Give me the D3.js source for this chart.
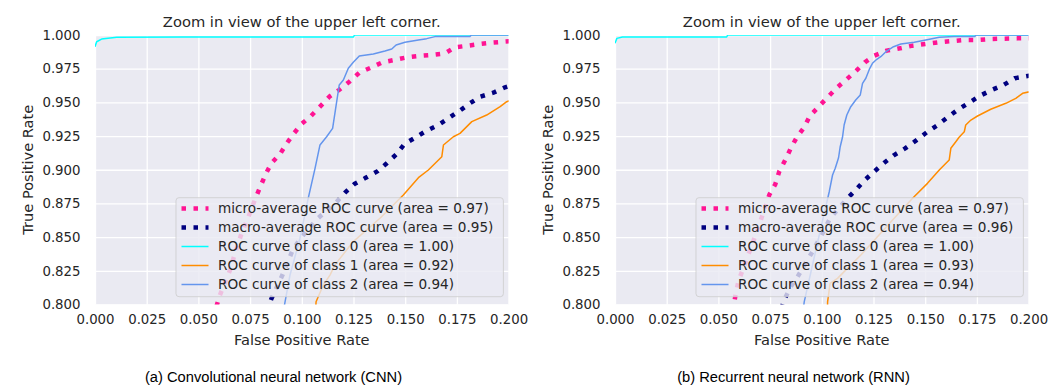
<!DOCTYPE html>
<html>
<head>
<meta charset="utf-8">
<title>ROC zoom</title>
<script src="https://cdn.jsdelivr.net/npm/d3@7"></script>
<style>
    body { margin: 0; background: #fff; }
    text { fill: #262626; font-family: "DejaVu Sans", sans-serif; }
</style>
</head>
<body>
<div id="chart"></div>
<script>
// [fpr, tpr] points
var cnnMicro = [[0.057,0.790],[0.0604,0.807],[0.0653,0.8256],[0.0669,0.834],[0.0709,0.853],[0.0733,0.8615],[0.0778,0.8796],[0.0801,0.888],[0.0826,0.897],[0.0854,0.905],[0.0895,0.9117],[0.0927,0.9196],[0.0962,0.927],[0.0999,0.934],[0.1045,0.940],[0.1088,0.9468],[0.1133,0.9542],[0.118,0.9592],[0.123,0.9653],[0.1278,0.972],[0.1333,0.9757],[0.1389,0.9797],[0.1446,0.9814],[0.1507,0.9834],[0.1576,0.9846],[0.1628,0.9852],[0.1693,0.9864],[0.1741,0.9909],[0.1806,0.9921],[0.1862,0.9933],[0.1918,0.9943],[0.1975,0.995],[0.205,0.9958]];
var cnnMacro = [[0.083,0.795],[0.0854,0.8046],[0.0908,0.8224],[0.0954,0.8397],[0.0991,0.8486],[0.1072,0.8632],[0.1165,0.8756],[0.1209,0.883],[0.1254,0.8894],[0.1309,0.894],[0.1367,0.899],[0.1411,0.9048],[0.1459,0.9117],[0.1496,0.9191],[0.1548,0.9238],[0.1601,0.9288],[0.166,0.9332],[0.1709,0.9382],[0.1762,0.9436],[0.1813,0.9493],[0.1862,0.9542],[0.1926,0.9572],[0.1983,0.9612],[0.205,0.9645]];
var cnnClass0 = [[0,0.9913],[0.0008,0.995],[0.0032,0.997],[0.0105,0.9983],[0.0427,0.9985],[0.125,0.9985],[0.1255,1],[0.2,1]];
var cnnClass1 = [[0.1065,0.79],[0.1069,0.802],[0.1104,0.8145],[0.1137,0.822],[0.116,0.8294],[0.1249,0.8467],[0.1378,0.864],[0.1491,0.8813],[0.1564,0.8941],[0.1612,0.8998],[0.1677,0.9097],[0.1685,0.9184],[0.1733,0.9245],[0.1765,0.927],[0.1822,0.9357],[0.1894,0.9406],[0.1959,0.9468],[0.1991,0.9505],[0.205,0.954]];
var cnnClass2 = [[0.0905,0.79],[0.0919,0.802],[0.0943,0.8219],[0.0991,0.849],[0.1031,0.8788],[0.1064,0.901],[0.1088,0.9184],[0.112,0.9245],[0.1149,0.9307],[0.1165,0.9468],[0.1181,0.9629],[0.1201,0.9666],[0.1225,0.9753],[0.1249,0.9797],[0.1278,0.9844],[0.1346,0.9859],[0.1402,0.9881],[0.1435,0.9896],[0.1456,0.9926],[0.1499,0.9946],[0.1564,0.9963],[0.1604,0.9973],[0.1644,0.9988],[0.1813,0.9988],[0.182,1],[0.2,1]];

var rnnMicro = [[0.057,0.795],[0.0584,0.8083],[0.0597,0.8174],[0.062,0.8268],[0.0641,0.8355],[0.0686,0.854],[0.0705,0.8627],[0.0746,0.8813],[0.0775,0.8892],[0.0794,0.8986],[0.0823,0.9072],[0.085,0.9159],[0.0879,0.9241],[0.0915,0.9315],[0.0942,0.9399],[0.0985,0.9468],[0.1028,0.9538],[0.1073,0.9609],[0.1116,0.9666],[0.1162,0.9728],[0.1208,0.9797],[0.1253,0.9846],[0.1314,0.9884],[0.1379,0.9901],[0.1439,0.9921],[0.15,0.9933],[0.1564,0.9946],[0.1629,0.9955],[0.1689,0.9963],[0.1753,0.9963],[0.1817,0.997],[0.1882,0.9973],[0.1946,0.9975],[0.205,0.9978]];
var rnnMacro = [[0.0805,0.797],[0.0818,0.8033],[0.085,0.8132],[0.0883,0.8206],[0.095,0.838],[0.1012,0.8553],[0.104,0.864],[0.1121,0.8783],[0.1164,0.885],[0.1208,0.8924],[0.1253,0.8986],[0.1302,0.9052],[0.135,0.9109],[0.1403,0.9159],[0.1455,0.9216],[0.1508,0.9278],[0.156,0.9332],[0.1608,0.9389],[0.1661,0.9449],[0.1713,0.9498],[0.1766,0.955],[0.1822,0.9592],[0.1879,0.9629],[0.1933,0.9679],[0.205,0.971]];
var rnnClass0 = [[0,0.9938],[0.0009,0.9975],[0.0036,0.9985],[0.054,0.9985],[0.0545,1],[0.2,1]];
var rnnClass1 = [[0.1027,0.79],[0.1028,0.802],[0.104,0.8157],[0.1076,0.8194],[0.1124,0.8268],[0.1189,0.8367],[0.1269,0.8503],[0.135,0.864],[0.1439,0.8788],[0.1511,0.8899],[0.1568,0.8998],[0.1616,0.9072],[0.1624,0.9159],[0.1648,0.9208],[0.1664,0.9241],[0.1689,0.9282],[0.1696,0.9332],[0.1721,0.9369],[0.1753,0.9399],[0.1817,0.9449],[0.189,0.9493],[0.1938,0.953],[0.1971,0.9567],[0.205,0.9595]];
var rnnClass2 = [[0.0905,0.79],[0.0915,0.802],[0.0955,0.8293],[0.0995,0.8566],[0.1036,0.8837],[0.1052,0.8961],[0.1065,0.9011],[0.1081,0.9089],[0.1089,0.9171],[0.11,0.9241],[0.1108,0.9332],[0.1121,0.9406],[0.114,0.9468],[0.1164,0.9518],[0.1186,0.9555],[0.1197,0.9641],[0.1213,0.9679],[0.1232,0.9753],[0.1245,0.979],[0.1266,0.982],[0.1285,0.9839],[0.131,0.9876],[0.1347,0.9913],[0.1382,0.9933],[0.1447,0.9946],[0.1503,0.9963],[0.1568,0.9983],[0.164,0.9988],[0.174,0.9988],[0.1745,1],[0.2,1]];

var cnnLabels = ["micro-average ROC curve (area = 0.97)",
                 "macro-average ROC curve (area = 0.95)",
                 "ROC curve of class 0 (area = 1.00)",
                 "ROC curve of class 1 (area = 0.92)",
                 "ROC curve of class 2 (area = 0.94)"];
var rnnLabels = ["micro-average ROC curve (area = 0.97)",
                 "macro-average ROC curve (area = 0.96)",
                 "ROC curve of class 0 (area = 1.00)",
                 "ROC curve of class 1 (area = 0.93)",
                 "ROC curve of class 2 (area = 0.94)"];
var captions = ["(a) Convolutional neural network (CNN)", "(b) Recurrent neural network (RNN)"];

var xTicks = [0, 0.025, 0.05, 0.075, 0.1, 0.125, 0.15, 0.175, 0.2];
var yTicks = [0.8, 0.825, 0.85, 0.875, 0.9, 0.925, 0.95, 0.975, 1.0];

var colors = ["#ff1493", "#000080", "#00ffff", "#ff8c00", "#6495ed"];
var dotted = [true, true, false, false, false];

var width = 1064,
    height = 385;

var svg = d3.select("#chart").append("svg")
    .attr("width", width)
    .attr("height", height);

// plot box inside each panel
var px = 95, py = 35, pw = 413.6, ph = 269.5;

var x = d3.scaleLinear().domain([0, 0.2]).range([0, pw]);
var y = d3.scaleLinear().domain([0.8, 1.0]).range([ph, 0]);
var line = d3.line().x(function(d){ return x(d[0]); }).y(function(d){ return y(d[1]); });
var fmt = d3.format(".3f");

function drawPanel(idx, offset, series, labels, caption) {
    var g = svg.append("g").attr("transform", "translate(" + (offset + px) + "," + py + ")");

    g.append("rect").attr("width", pw).attr("height", ph).attr("fill", "#eaeaf2");

    var gx = g.append("g").attr("transform", "translate(0," + ph + ")")
        .call(d3.axisBottom(x).tickValues(xTicks).tickFormat(fmt).tickSize(-ph).tickPadding(10.5));
    var gy = g.append("g")
        .call(d3.axisLeft(y).tickValues(yTicks).tickFormat(fmt).tickSize(-pw).tickPadding(14.5));
    [gx, gy].forEach(function(a){
        a.select(".domain").remove();
        a.selectAll("line").attr("stroke", "#fff").attr("stroke-width", 1.3);
        a.selectAll("text").attr("fill", "#262626").style("font-size", "13.3px").attr("font-family", "DejaVu Sans");
    });

    svg.append("clipPath").attr("id", "clip" + idx)
        .append("rect").attr("width", pw).attr("height", ph);

    var plot = g.append("g").attr("clip-path", "url(#clip" + idx + ")");
    series.forEach(function(s, i){
        plot.append("path").datum(s)
            .attr("d", line)
            .attr("fill", "none")
            .attr("stroke", colors[i])
            .attr("stroke-width", dotted[i] ? 4.5 : 1.5)
            .attr("stroke-dasharray", dotted[i] ? "4.5,7.5" : null)
            .attr("stroke-linejoin", "round");
    });

    // title and axis labels
    g.append("text").attr("x", pw / 2).attr("y", -8)
        .attr("text-anchor", "middle").style("font-size", "14.7px")
        .text("Zoom in view of the upper left corner.");
    g.append("text").attr("x", pw / 2).attr("y", ph + 40)
        .attr("text-anchor", "middle").style("font-size", "14.6px")
        .text("False Positive Rate");
    g.append("text").attr("transform", "translate(-62," + (ph / 2) + ") rotate(-90)")
        .attr("text-anchor", "middle").style("font-size", "14.6px")
        .text("True Positive Rate");

    // legend
    var lx = 81, ly = 162.7;
    var leg = g.append("g").attr("transform", "translate(" + lx + "," + ly + ")");
    var box = leg.append("rect").attr("height", 99).attr("rx", 3)
        .attr("fill", "rgba(234,234,242,0.8)")
        .attr("stroke", "rgba(204,204,204,0.8)").attr("stroke-width", 1);
    var maxLen = 0;
    labels.forEach(function(lab, i){
        var yy = 10.8 + i * 19;
        leg.append("line").attr("x1", 5.5).attr("x2", 32.5).attr("y1", yy).attr("y2", yy)
            .attr("stroke", colors[i])
            .attr("stroke-width", dotted[i] ? 4.5 : 1.5)
            .attr("stroke-dasharray", dotted[i] ? "4.5,7.5" : null);
        var t = leg.append("text").attr("x", 42).attr("y", yy).attr("dy", "0.35em")
            .style("font-size", "13.6px").text(lab);
        maxLen = Math.max(maxLen, t.node().getComputedTextLength());
    });
    box.attr("width", 42 + maxLen + 10);

    // caption under the panel
    svg.append("text").attr("x", offset + 273.5).attr("y", 381.5)
        .attr("text-anchor", "middle")
        .style("font-family", "Liberation Sans, Arial, sans-serif")
        .style("font-size", "14.7px").style("fill", "#000")
        .text(caption);
}

drawPanel(0, 0, [cnnMicro, cnnMacro, cnnClass0, cnnClass1, cnnClass2], cnnLabels, captions[0]);
drawPanel(1, 520, [rnnMicro, rnnMacro, rnnClass0, rnnClass1, rnnClass2], rnnLabels, captions[1]);
</script>
</body>
</html>
